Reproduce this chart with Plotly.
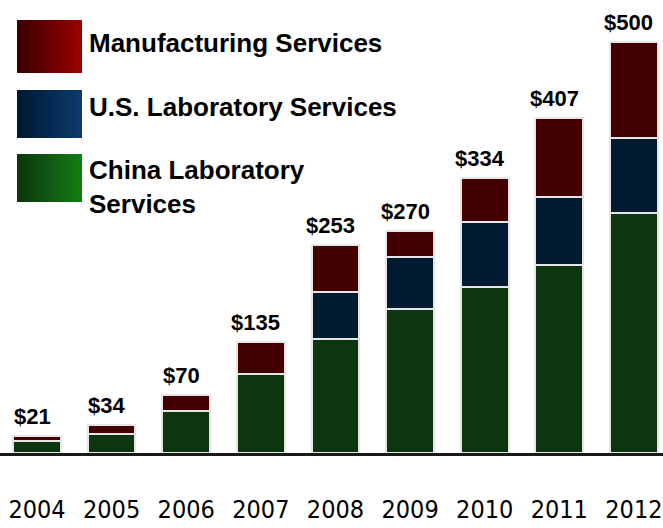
import plotly.graph_objects as go

years = ["2004", "2005", "2006", "2007", "2008", "2009", "2010", "2011", "2012"]
china_lab = [14, 23, 51, 96, 139, 175, 202, 229, 292]
us_lab = [0, 0, 0, 0, 57, 63, 79, 82, 91]
manufacturing = [7, 11, 19, 39, 57, 32, 53, 96, 117]
totals = [21, 34, 70, 135, 253, 270, 334, 407, 500]
total_labels = ["$21", "$34", "$70", "$135", "$253", "$270", "$334", "$407", "$500"]

series_names = ["China Laboratory Services", "U.S. Laboratory Services", "Manufacturing Services"]
bar_colors = ["#0c3510", "#011a2f", "#420000"]

W, H = 663, 528
PLOT_H = 453

fig = go.Figure()
for name, vals, col in zip(series_names, [china_lab, us_lab, manufacturing], bar_colors):
    fig.add_trace(go.Bar(
        x=years, y=vals, name=name, width=0.64,
        marker=dict(color=col, line=dict(color="#e6e6e6", width=2)),
        showlegend=False,
    ))

annotations = []
for i, (tot, lab) in enumerate(zip(totals, total_labels)):
    annotations.append(dict(
        x=i, y=tot, text="<b>%s</b>" % lab, showarrow=False,
        yanchor="bottom", xanchor="center", yshift=5, xshift=-5,
        font=dict(family="Liberation Sans, Arial, sans-serif", size=22, color="#000000"),
    ))

def px2x(px):
    return px / W

def py2y(py):
    return 1 - py / PLOT_H

legend_items = [
    ("Manufacturing Services", ("#3a0000", "#9a0000"), 20, 73, 43),
    ("U.S. Laboratory Services", ("#001a33", "#0c3a6c"), 90, 138, 107),
    ("China Laboratory<br>Services", ("#0b380d", "#147a14"), 154, 202, 187),
]

def hex2rgb(h):
    h = h.lstrip("#")
    return tuple(int(h[i:i + 2], 16) for i in (0, 2, 4))

shapes = []
for text, (c0, c1), top, bot, ty in legend_items:
    r0, g0, b0 = hex2rgb(c0)
    r1, g1, b1 = hex2rgb(c1)
    n = 13
    x0p, x1p = 17, 82
    for i in range(n):
        t = i / (n - 1)
        col = "rgb(%d,%d,%d)" % (r0 + (r1 - r0) * t, g0 + (g1 - g0) * t, b0 + (b1 - b0) * t)
        xa = x0p + (x1p - x0p) * i / n
        xb = x0p + (x1p - x0p) * (i + 1) / n
        if i < n - 1:
            xb += 1
        shapes.append(dict(type="rect", xref="paper", yref="paper",
                           x0=px2x(xa), x1=px2x(xb), y0=py2y(bot), y1=py2y(top),
                           fillcolor=col, line=dict(width=0), layer="above"))
    annotations.append(dict(
        xref="paper", yref="paper", x=px2x(87), y=py2y(ty), text="<b>%s</b>" % text,
        showarrow=False, xanchor="left", yanchor="middle", align="left",
        font=dict(family="Liberation Sans, Arial, sans-serif", size=26, color="#000000"),
    ))

fig.update_layout(
    barmode="stack",
    width=W, height=H,
    margin=dict(l=0, r=0, t=0, b=H - PLOT_H, autoexpand=False),
    paper_bgcolor="white", plot_bgcolor="white",
    xaxis=dict(
        range=[-0.496, 8.39], showgrid=False, zeroline=False, automargin=False,
        showline=True, linecolor="#1a1a1a", linewidth=2.5,
        ticks="", ticklabelstandoff=32, tickangle=0,
        tickfont=dict(family="DejaVu Sans Condensed, sans-serif", size=25, color="#000000"),
    ),
    yaxis=dict(range=[0, 551], visible=False, showgrid=False, zeroline=False),
    annotations=annotations,
    shapes=shapes,
)

fig.write_html("out.html")
